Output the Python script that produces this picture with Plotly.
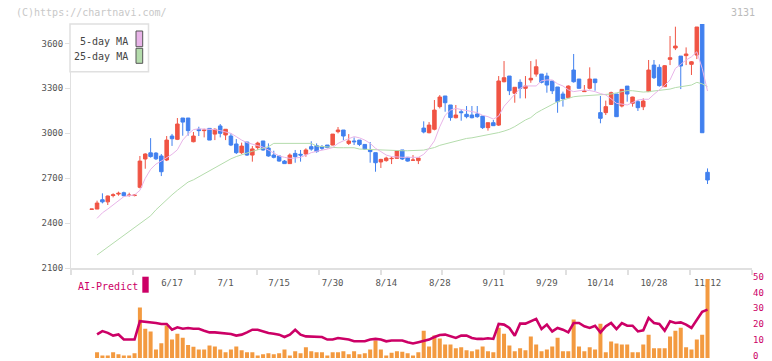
import plotly.graph_objects as go

# ---------------- data ----------------
idx = list(range(1, 117))

opens = [2493, 2495, 2557, 2543, 2585, 2595, 2604, 2585, 2585, 2640,
         2829, 2870, 2868, 2849, 2822, 2982, 2960, 3102, 3102, 2944,
         3027, 3018, 3033, 2995, 3049, 2989, 2982, 2929, 2871, 2942,
         2855, 2905, 2949, 2902, 2855, 2849, 2815, 2798, 2866, 2860,
         2862, 2911, 2918, 2911, 2922, 2922, 3011, 3022, 2933, 2949,
         2955, 2926, 2889, 2871, 2809, 2818, 2831, 2833, 2889, 2840,
         2820, 2818, 3035, 3004, 3027, 3178, 3249, 3189, 3104, 3144,
         3127, 3122, 3129, 3115, 3038, 3071, 3055, 3344, 3382, 3267,
         3340, 3300, 3356, 3395, 3395, 3382, 3349, 3309, 3262, 3238,
         3422, 3362, 3278, 3300, 3362, 3138, 3138, 3193, 3262, 3182,
         3315, 3200, 3211, 3177, 3278, 3455, 3440, 3311, 3493, 3569,
         3515, 3518, 3460, 3522, 3729, 2740]
highs = [2495, 2551, 2600, 2585, 2600, 2611, 2611, 2604, 2595, 2849,
         2867, 2968, 2875, 2862, 2982, 2996, 3102, 3102, 3102, 3009,
         3044, 3031, 3033, 3033, 3062, 3027, 3000, 2962, 2938, 2942,
         2915, 2944, 2949, 2933, 2884, 2849, 2822, 2866, 2889, 2889,
         2900, 2947, 2933, 2922, 2922, 2995, 3042, 3022, 2995, 2973,
         2955, 2926, 2942, 2871, 2830, 2844, 2844, 2884, 2889, 2840,
         2855, 2835, 3080, 3075, 3222, 3255, 3249, 3189, 3189, 3160,
         3182, 3182, 3182, 3115, 3071, 3089, 3382, 3482, 3382, 3307,
         3360, 3382, 3482, 3493, 3395, 3404, 3349, 3309, 3278, 3320,
         3529, 3362, 3322, 3440, 3362, 3249, 3218, 3278, 3262, 3293,
         3315, 3244, 3222, 3233, 3489, 3489, 3460, 3455, 3649, 3711,
         3515, 3573, 3482, 3709, 3729, 2766]
lows = [2493, 2495, 2533, 2522, 2573, 2584, 2580, 2578, 2580, 2633,
        2764, 2838, 2822, 2715, 2815, 2916, 2955, 2984, 2984, 2940,
        2982, 2973, 2955, 2955, 2973, 2955, 2915, 2862, 2862, 2849,
        2811, 2890, 2884, 2844, 2833, 2811, 2798, 2798, 2804, 2811,
        2844, 2884, 2871, 2889, 2900, 2920, 3000, 2955, 2922, 2922,
        2915, 2889, 2804, 2744, 2769, 2811, 2795, 2833, 2822, 2811,
        2818, 2795, 3000, 3000, 3020, 3166, 3144, 3084, 3100, 3084,
        3100, 3100, 3104, 3029, 3018, 3049, 3049, 3340, 3255, 3204,
        3233, 3233, 3337, 3378, 3333, 3271, 3262, 3137, 3178, 3238,
        3338, 3300, 3278, 3293, 3284, 3067, 3122, 3189, 3111, 3173,
        3211, 3178, 3149, 3155, 3278, 3362, 3311, 3311, 3455, 3555,
        3295, 3455, 3389, 3495, 3004, 2662]
closes = [2495, 2535, 2543, 2582, 2590, 2600, 2584, 2588, 2588, 2815,
          2862, 2845, 2830, 2744, 2955, 2964, 3062, 3075, 3018, 2982,
          3018, 3022, 2955, 3027, 3000, 3027, 2922, 2871, 2915, 2855,
          2896, 2935, 2889, 2849, 2840, 2815, 2798, 2855, 2844, 2855,
          2889, 2895, 2878, 2900, 2906, 2995, 3022, 2982, 2949, 2944,
          2926, 2895, 2878, 2804, 2826, 2835, 2833, 2884, 2829, 2815,
          2822, 2835, 3009, 3055, 3155, 3242, 3204, 3105, 3122, 3138,
          3111, 3104, 3111, 3038, 3071, 3051, 3349, 3371, 3284, 3307,
          3300, 3315, 3367, 3444, 3340, 3322, 3284, 3211, 3231, 3315,
          3344, 3300, 3282, 3362, 3338, 3100, 3178, 3271, 3111, 3293,
          3262, 3242, 3171, 3215, 3422, 3371, 3318, 3451, 3504, 3582,
          3449, 3529, 3477, 3709, 3004, 2689]

ma5 = [None, 2433, 2470, 2495, 2522, 2550, 2578, 2585, 2589, 2620,
       2700, 2760, 2795, 2815, 2838, 2860, 2890, 2955, 2995, 3025,
       3030, 3030, 3025, 3025, 3018, 3011, 3000, 2978, 2955, 2938,
       2926, 2918, 2908, 2889, 2870, 2849, 2840, 2833, 2835, 2840,
       2855, 2871, 2880, 2886, 2895, 2905, 2933, 2950, 2966, 2978,
       2970, 2955, 2933, 2900, 2878, 2855, 2845, 2840, 2840, 2840,
       2840, 2840, 2860, 2900, 2950, 3044, 3120, 3155, 3166, 3160,
       3151, 3145, 3138, 3120, 3111, 3095, 3115, 3180, 3222, 3265,
       3300, 3316, 3316, 3316, 3350, 3356, 3356, 3330, 3316, 3290,
       3278, 3285, 3289, 3285, 3278, 3265, 3256, 3230, 3200, 3195,
       3189, 3205, 3222, 3227, 3227, 3260, 3289, 3320, 3356, 3433,
       3460, 3489, 3510, 3544, 3434, 3282]
ma25 = [None, 2189, 2215, 2240, 2265, 2290, 2320, 2345, 2370, 2395,
        2420, 2450, 2490, 2525, 2555, 2590, 2620, 2650, 2675, 2690,
        2710, 2735, 2755, 2770, 2790, 2810, 2830, 2845, 2858, 2866,
        2880, 2890, 2900, 2911, 2933, 2933, 2933, 2933, 2933, 2933,
        2933, 2933, 2915, 2911, 2911, 2908, 2904, 2904, 2904, 2904,
        2895, 2893, 2893, 2891, 2891, 2889, 2886, 2884, 2884, 2884,
        2884, 2884, 2888, 2897, 2905, 2920, 2930, 2938, 2945, 2958,
        2966, 2970, 2976, 2982, 2988, 2995, 3005, 3015, 3027, 3045,
        3067, 3089, 3105, 3135, 3155, 3172, 3190, 3211, 3222, 3235,
        3244, 3248, 3250, 3255, 3256, 3258, 3260, 3262, 3270, 3280,
        3285, 3284, 3280, 3275, 3278, 3282, 3284, 3290, 3295, 3305,
        3311, 3315, 3322, 3340, 3330, 3311]

volume = [0, 3.6, 1.6, 1.6, 3.6, 2.4, 1.6, 1.6, 3.0, 31.7,
          18.4, 16.6, 5.4, 9.2, 20.4, 11.6, 15.3, 12.8, 8.2, 7.1,
          5.4, 5.4, 7.9, 7.3, 5.4, 3.6, 5.4, 7.3, 4.8, 3.6,
          3.6, 1.6, 2.4, 3.0, 2.4, 3.0, 5.4, 1.6, 4.2, 3.0,
          6.7, 4.2, 3.6, 3.6, 1.6, 3.6, 3.6, 4.2, 2.4, 4.2,
          2.4, 3.0, 5.4, 11.0, 5.4, 1.6, 3.3, 4.2, 3.9, 3.0,
          1.6, 3.6, 17.2, 7.3, 14.1, 12.2, 8.5, 8.5, 6.1, 6.7,
          4.8, 4.2, 5.4, 7.3, 4.2, 3.6, 19.1, 15.3, 7.9, 4.2,
          6.1, 4.8, 13.5, 8.5, 4.2, 5.4, 7.3, 12.8, 4.2, 4.2,
          24.2, 7.3, 4.2, 6.7, 5.4, 21.6, 3.6, 10.4, 9.1, 8.5,
          8.5, 3.6, 3.6, 8.5, 14.7, 6.1, 6.1, 6.1, 13.5, 17.2,
          19.1, 6.7, 5.4, 11.6, 14.7, 49.7]
ai_predict = [None, 14.8, 16.9, 15.8, 14.1, 14.8, 11.6, 11.6, 11.6, 23.1,
              22.8, 22.4, 22.0, 21.4, 21.4, 17.8, 19.3, 18.4, 18.9, 18.4,
              18.4, 17.2, 16.1, 16.1, 15.7, 15.1, 15.1, 14.1, 14.7, 16.1,
              17.8, 17.8, 16.7, 15.7, 15.3, 14.7, 13.2, 14.7, 17.8, 14.7,
              13.6, 13.6, 13.6, 13.2, 11.6, 11.6, 12.6, 12.0, 11.6, 10.5,
              10.5, 10.5, 11.6, 12.0, 11.6, 10.5, 11.0, 11.0, 11.0, 9.9,
              9.1, 9.9, 10.7, 11.6, 13.2, 14.5, 14.7, 13.6, 12.6, 14.1,
              14.1, 12.6, 12.0, 12.0, 12.4, 12.0, 21.4, 21.0, 18.9, 14.0,
              21.6, 21.6, 23.1, 24.6, 18.2, 21.0, 16.7, 18.9, 17.8, 16.1,
              22.0, 22.0, 19.9, 18.9, 20.3, 16.1, 19.9, 22.0, 18.2, 22.0,
              20.3, 20.3, 16.7, 17.4, 25.2, 22.0, 21.4, 17.2, 23.1, 22.0,
              22.4, 21.0, 18.9, 24.0, 29.0, 30.4]

date_idx = [16, 26, 36, 46, 56, 66, 76, 86, 96, 106, 116]
date_labels = ["6/17", "7/1", "7/15", "7/30", "8/14", "8/28",
               "9/11", "9/29", "10/14", "10/28", "11/12"]
price_ticks = [2100, 2400, 2700, 3000, 3300, 3600]
vol_ticks = [0, 10, 20, 30, 40, 50]

# ---------------- styling / layout geometry ----------------
RED = "#f05444"
BLUE = "#4180ef"
ORANGE = "#f39a40"
MAG = "#cc0066"
PINK = "#e8b4e8"
GREEN = "#b4dcac"
AXIS = "#e0e0e0"
TXT = "#555555"
FONT = "DejaVu Sans Mono"

# the page body has an 8px margin, so the figure is drawn 8px in from the corner
OFF = 8
W, H = 772 - OFF, 361 - OFF
PLOT_L, PLOT_R, PLOT_T, PLOT_B = 71, 752, 24, 358     # page pixels
ML, MT = PLOT_L - OFF, PLOT_T - OFF
MR, MB = W - (PLOT_R - OFF), H - (PLOT_B - OFF)
PW, PH = PLOT_R - PLOT_L, PLOT_B - PLOT_T
X0_PX, STEP = 91.7, 5.355        # page pixel centre of first candle, spacing


def n_of_px(px):
    return 1 + (px - X0_PX) / STEP


def xp(px):
    return (px - PLOT_L) / PW


def yp(py):
    return (PLOT_B - py) / PH


x_range = [n_of_px(PLOT_L), n_of_px(PLOT_R)]
minor_dtick = (PW / 11) / STEP
minor_tick0 = n_of_px(PLOT_L + PW / 11)

fig = go.Figure()

fig.add_trace(go.Scatter(x=idx, y=ma25, mode="lines",
                         line=dict(color=GREEN, width=1),
                         hoverinfo="skip", showlegend=False))
fig.add_trace(go.Scatter(x=idx, y=ma5, mode="lines",
                         line=dict(color=PINK, width=1),
                         hoverinfo="skip", showlegend=False))
fig.add_trace(go.Candlestick(
    x=idx, open=opens, high=highs, low=lows, close=closes,
    increasing=dict(line=dict(color=RED, width=1), fillcolor=RED),
    decreasing=dict(line=dict(color=BLUE, width=1), fillcolor=BLUE),
    whiskerwidth=0, showlegend=False))

fig.add_trace(go.Bar(x=idx, y=volume, marker_color=ORANGE, marker_line_width=0,
                     width=0.75, xaxis="x2", yaxis="y2", showlegend=False))
fig.add_trace(go.Scatter(x=idx, y=ai_predict, mode="lines",
                         line=dict(color=MAG, width=2.6),
                         xaxis="x2", yaxis="y2", showlegend=False))

main_bottom = yp(268.3)
vol_top = yp(278.5)

fig.update_layout(
    width=W, height=H,
    margin=dict(l=ML, r=MR, t=MT, b=MB, pad=0, autoexpand=False),
    paper_bgcolor="white", plot_bgcolor="white",
    boxgap=0.06,
    showlegend=False,
    xaxis=dict(domain=[0, 1], range=x_range, anchor="y", automargin=False,
               tickmode="array", tickvals=date_idx, ticktext=date_labels,
               ticks="", ticklabelstandoff=5,
               tickfont=dict(family=FONT, size=9, color=TXT),
               showline=True, linecolor=AXIS, linewidth=2,
               showgrid=False, zeroline=False,
               minor=dict(tickmode="linear", tick0=minor_tick0, dtick=minor_dtick,
                          ticks="outside", ticklen=5, tickcolor=AXIS, tickwidth=2,
                          showgrid=False),
               rangeslider=dict(visible=False)),
    yaxis=dict(domain=[main_bottom, 1], range=[2100, 3729], anchor="x",
               automargin=False,
               tickmode="array", tickvals=price_ticks,
               ticks="outside", ticklen=5, tickcolor=AXIS, tickwidth=1,
               tickfont=dict(family=FONT, size=9, color=TXT),
               showline=True, linecolor=AXIS, linewidth=1,
               showgrid=False, zeroline=False),
    xaxis2=dict(domain=[0, 1], range=x_range, anchor="y2", visible=False,
                automargin=False),
    yaxis2=dict(domain=[0, vol_top], range=[0, 50], anchor="x2", side="right",
                automargin=False, ticklabeloverflow="allow", ticklabelshift=-2,
                tickmode="array", tickvals=vol_ticks, ticks="",
                tickfont=dict(family=FONT, size=9, color=MAG),
                showline=False, showgrid=False, zeroline=False),
)

shapes = [
    dict(type="rect", xref="paper", yref="paper",
         x0=xp(70), x1=xp(148.5), y0=yp(71.7), y1=yp(24),
         line=dict(color=AXIS, width=1.5), fillcolor="white", layer="above"),
    dict(type="rect", xref="paper", yref="paper",
         x0=xp(136), x1=xp(142.7), y0=yp(46.7), y1=yp(31),
         line=dict(color="#555555", width=1), fillcolor=PINK),
    dict(type="rect", xref="paper", yref="paper",
         x0=xp(136), x1=xp(142.7), y0=yp(63.3), y1=yp(48.3),
         line=dict(color="#555555", width=1), fillcolor=GREEN),
    dict(type="rect", xref="paper", yref="paper",
         x0=xp(142.3), x1=xp(148.7), y0=yp(292.7), y1=yp(276.7),
         line=dict(width=0), fillcolor=MAG),
]
fig.update_layout(shapes=shapes)

ann = [
    dict(text="(C)https://chartnavi.com/", x=xp(14), y=yp(12.7),
         xanchor="left", yanchor="middle",
         font=dict(family=FONT, size=10, color="#c8c8c8")),
    dict(text="3131", x=xp(757), y=yp(12.5), xanchor="right", yanchor="middle",
         font=dict(family=FONT, size=10, color="#bbbbbb")),
    dict(text="5-day MA", x=xp(129.5), y=yp(41.7), xanchor="right", yanchor="middle",
         font=dict(family=FONT, size=10, color="#444444")),
    dict(text="25-day MA", x=xp(129.5), y=yp(56.7), xanchor="right", yanchor="middle",
         font=dict(family=FONT, size=10, color="#444444")),
    dict(text="AI-Predict", x=xp(76), y=yp(286), xanchor="left", yanchor="middle",
         font=dict(family=FONT, size=10, color=MAG)),
]
for a in ann:
    a.update(xref="paper", yref="paper", showarrow=False)
fig.update_layout(annotations=ann)

fig.write_html("out.html", include_plotlyjs=True, config={"displayModeBar": False})
